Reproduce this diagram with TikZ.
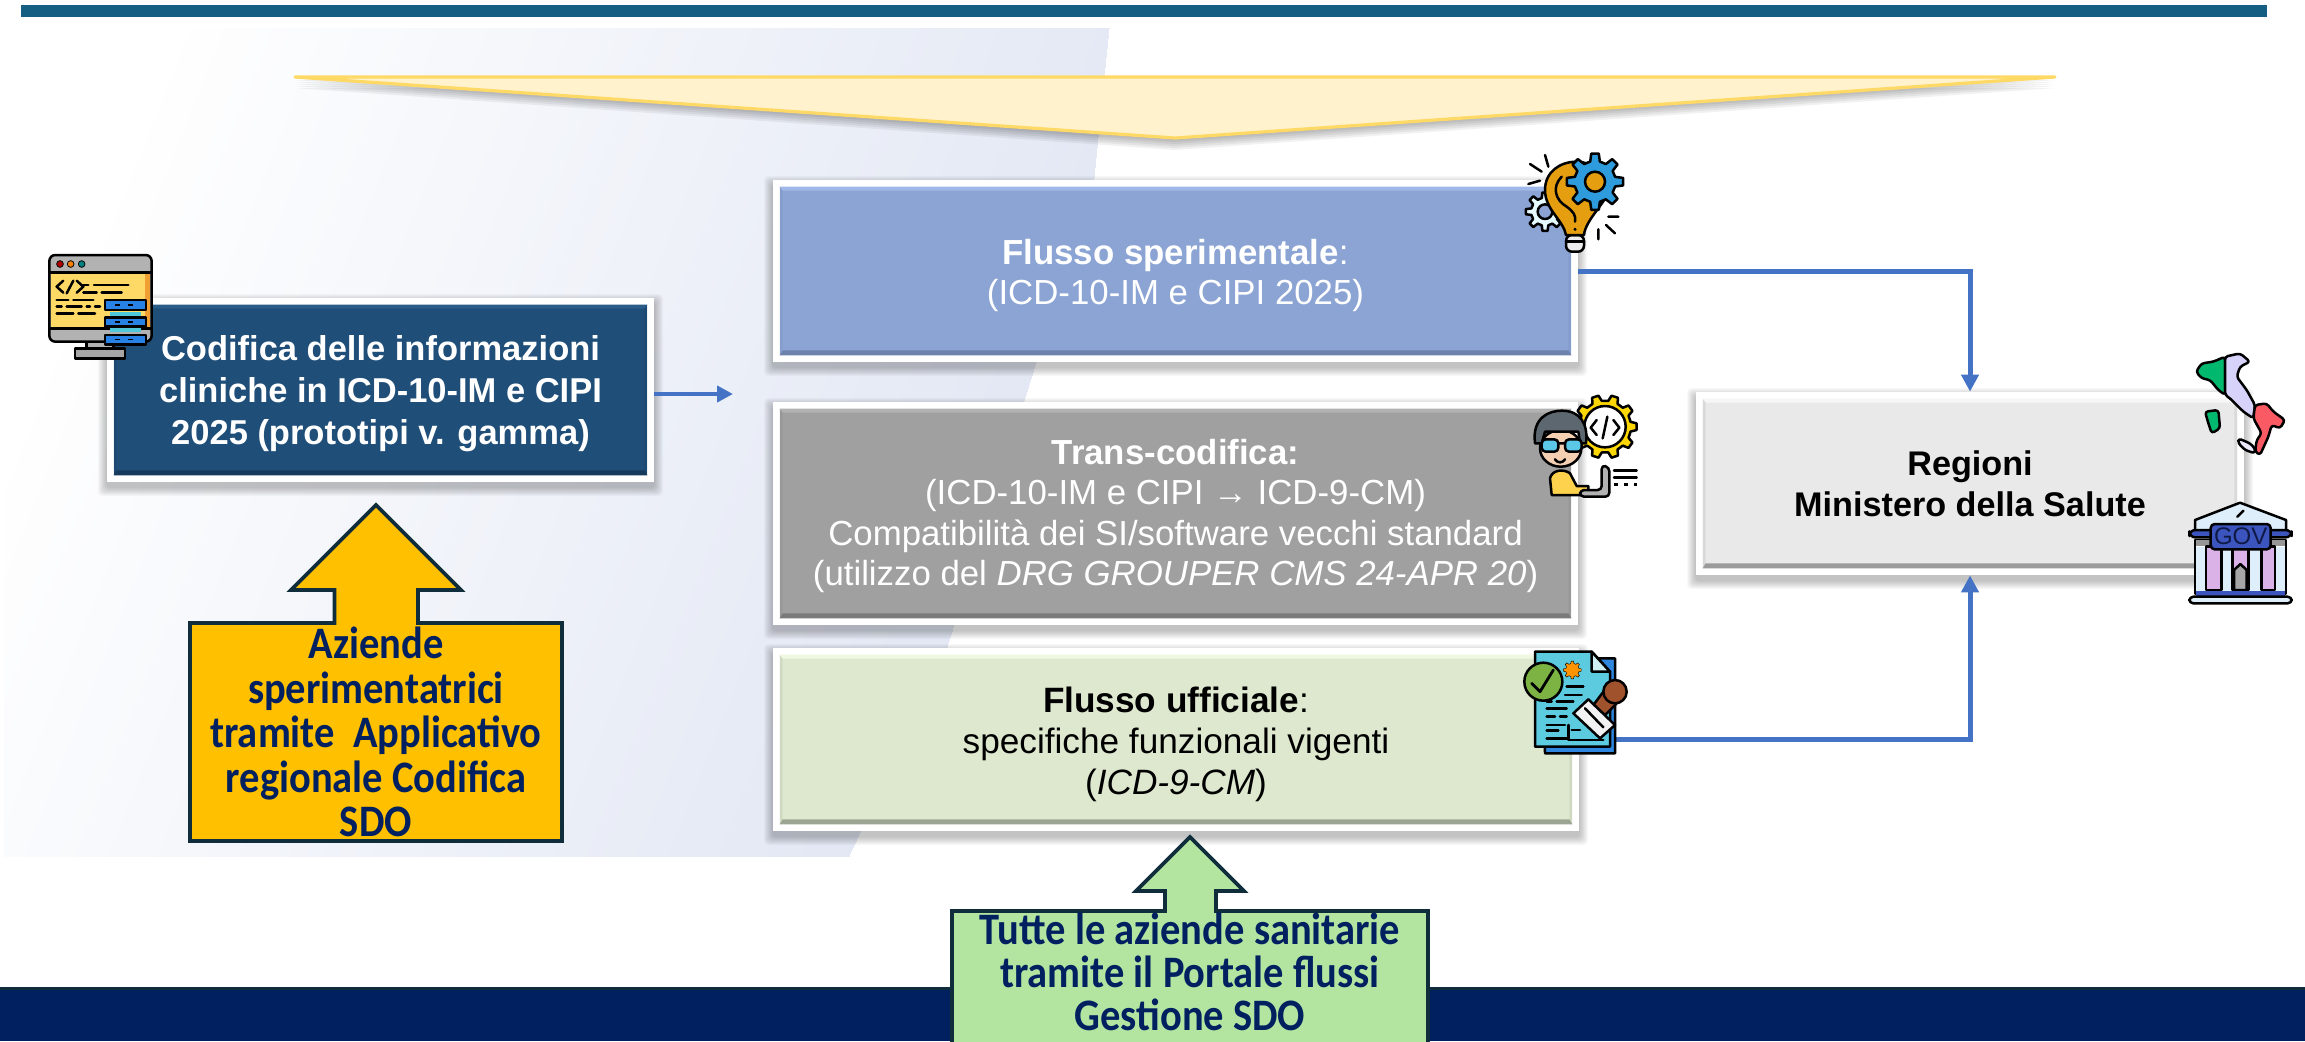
\documentclass[tikz,border=0pt]{standalone}
\usepackage{fontspec}
\setmainfont{Liberation Sans}
\newfontfamily\callfont[FakeStretch=.9]{Carlito}
\usetikzlibrary{arrows.meta,calc}
\definecolor{navy}{HTML}{002060}
\definecolor{darkline}{HTML}{0F2D3A}
\definecolor{link}{HTML}{4472C4}
\definecolor{panelblue}{RGB}{227,232,244}
\newcommand{\softbox}[4]{%
  \foreach \i in {1,...,9}{\fill[black,opacity=.028,rounded corners=2pt] ({#1-\i},{#2-\i+5}) rectangle ({#3+\i},{#4+\i+5});}}
\newcommand{\gearshape}[7]{% cx cy ro ri n fill lw
  \begin{scope}[shift={(#1,#2)}]
  \pgfmathsetmacro{\gs}{360/#5}
  \pgfmathsetmacro{\gl}{360-\gs}
  \draw[fill=#6,line width=#7,line join=round] (-.3*\gs:#4)
    \foreach \a in {0,\gs,...,\gl}{ -- ({\a-.3*\gs}:#4) -- ({\a-.17*\gs}:#3) -- ({\a+.17*\gs}:#3) -- ({\a+.3*\gs}:#4)} -- cycle;
  \end{scope}}
\newcommand{\pushdown}[1]{\rule{0pt}{#1}}
\tikzset{
  bevelbox/.style n args={4}{rectangle,inner sep=0pt,fill=white,align=center,text=#4,
    path picture={
      \coordinate (A) at ([shift={(3.3pt,-3.3pt)}]path picture bounding box.north west);
      \coordinate (C) at ([shift={(-3.3pt,3.3pt)}]path picture bounding box.south east);
      \coordinate (B) at (A -| C);
      \coordinate (D) at (A |- C);
      \fill[#1] (A) rectangle (C);
      \fill[#2] (A) -- (B) -- ([shift={(-1.5pt,-2pt)}]B) -- ([shift={(1.5pt,-2pt)}]A) -- cycle;
      \fill[#3] (D) -- (C) -- ([shift={(-1.5pt,2.5pt)}]C) -- ([shift={(1.5pt,2.5pt)}]D) -- cycle;
      \fill[#3,opacity=.2] (A) -- (D) -- ([shift={(1.5pt,2.5pt)}]D) -- ([shift={(1.5pt,-2pt)}]A) -- cycle;
      \fill[#3,opacity=.2] (B) -- (C) -- ([shift={(-1.5pt,2.5pt)}]C) -- ([shift={(-1.5pt,-2pt)}]B) -- cycle;
    }},
  flowline/.style={draw=link,line width=2.5pt,-{Triangle[width=8.5pt,length=8.5pt]}},
  callout/.style={draw=darkline,line width=1.8pt,miter limit=10},
  calltext/.style={align=center,text=navy,inner sep=0pt,font=\callfont\bfseries\fontsize{22.5}{22.3}\selectfont},
  ico/.style={line width=1.25pt,draw=black,line join=round,line cap=round},
  icon3x/.style={x=.16667pt,y=-.16667pt},
}
\begin{document}
\begin{tikzpicture}[x=.5pt,y=-.5pt]
\useasboundingbox (0,0) rectangle (2305,1041);
\fill[white] (0,0) rectangle (2305,1041);
% background panel
\begin{scope}
\clip (4,28) -- (1109,28) -- (1094,177) -- (947,647) -- (849,856) -- (4,856) -- cycle;
\foreach \i in {0,...,60}{
  \pgfmathsetmacro{\tz}{170+\i*16.5}
  \pgfmathsetmacro{\pc}{\i*100/60}
  \fill[fill=panelblue!\pc!white] (\tz,0) -- ({\tz-360},900) -- (1400,900) -- (1400,0) -- cycle;}
\end{scope}
% top bar and footer
\fill[fill={rgb,255:red,21;green,96;blue,130}] (20.5,4.5) rectangle (2267,16.5);
\fill[navy] (0,988) rectangle (2305,1041);
\draw[darkline,line width=1.5pt] (0,988) -- (2305,988);
% banner
\foreach \i in {2,4,...,12}{\fill[black,opacity=.055] (295,{76+\i}) -- (2055,{76+\i}) -- (1175,{138+\i}) -- cycle;}
\fill[fill={rgb,255:red,255;green,242;blue,204}] (295,76) -- (2055,76) -- (1175,138) -- cycle;
\draw[draw={rgb,255:red,255;green,217;blue,102},line width=1.6pt,line join=round] (295,77) -- (2055,77) -- (1175,138) -- cycle;
% shadows
\softbox{107}{298}{654}{482}
\softbox{773}{180}{1578}{362}
\softbox{773}{402}{1578}{625}
\softbox{773}{648}{1579}{831}
\softbox{1696}{392}{2244}{575}
% boxes
\node[bevelbox={fill={rgb,255:red,31;green,78;blue,121}}{fill={rgb,255:red,42;green,92;blue,138}}{fill={rgb,255:red,22;green,58;blue,92}}{white},
  font=\fontsize{17.25}{21}\selectfont,
  minimum width=273.5pt,minimum height=92pt] (codifica) at (380.5,390)
  {\pushdown{16.6pt}\textbf{Codifica delle informazioni}\\\textbf{cliniche in ICD-10-IM e CIPI}\\\textbf{2025 (prototipi v. gamma)}};
\node[bevelbox={fill={rgb,255:red,139;green,164;blue,212}}{fill={rgb,255:red,160;green,184;blue,232}}{fill={rgb,255:red,108;green,130;blue,172}}{white},
  font=\fontsize{17.4}{20}\selectfont,
  minimum width=402.5pt,minimum height=91pt] (speri) at (1175.5,271)
  {\pushdown{17.4pt}\textbf{Flusso sperimentale}:\\(ICD-10-IM e CIPI 2025)};
\node[bevelbox={fill={rgb,255:red,160;green,160;blue,160}}{fill={rgb,255:red,178;green,178;blue,178}}{fill={rgb,255:red,122;green,122;blue,122}}{white},
  font=\fontsize{17.4}{20.2}\selectfont,
  minimum width=402.5pt,minimum height=111.5pt] (trans) at (1175.5,513.5)
  {\pushdown{15.2pt}\textbf{Trans-codifica:}\\(ICD-10-IM e CIPI → ICD-9-CM)\\Compatibilità dei SI/software vecchi standard\\(utilizzo del \textit{DRG GROUPER CMS 24-APR 20})};
\node[bevelbox={fill={rgb,255:red,221;green,232;blue,207}}{fill={rgb,255:red,240;green,248;blue,226}}{fill={rgb,255:red,155;green,165;blue,145}}{black},
  font=\fontsize{17.6}{20.5}\selectfont,
  minimum width=403pt,minimum height=91.5pt] (uff) at (1176,739.5)
  {\pushdown{17.4pt}\textbf{Flusso ufficiale}:\\specifiche funzionali vigenti\\(\textit{ICD-9-CM})};
\node[bevelbox={fill={rgb,255:red,233;green,233;blue,233}}{fill={rgb,255:red,246;green,246;blue,246}}{fill={rgb,255:red,155;green,155;blue,155}}{black},
  font=\fontsize{17.1}{20.5}\selectfont,
  minimum width=274pt,minimum height=91.5pt] (regioni) at (1970,483.5)
  {\textbf{Regioni}\\\textbf{Ministero della Salute}};
% connectors
\coordinate (flowend) at (733,394);
\draw[draw=link,line width=2.2pt,-{Triangle[width=8pt,length=8pt]}] (codifica.east |- flowend) -- (flowend);
\draw[flowline] (speri.east) -| (regioni.north);
\draw[flowline] (uff.east) -| (regioni.south);
% yellow callout
\draw[callout,fill={rgb,255:red,255;green,192;blue,0}] (376,505) -- (461,590) -- (418,590) -- (418,623) -- (562,623) -- (562,841) -- (190,841) -- (190,623) -- (334.5,623) -- (334.5,590) -- (291,590) -- cycle;
\node[calltext] (aziende) at (376,732) {Aziende\\sperimentatrici\\tramite\ \ Applicativo\\regionale Codifica\\SDO};
% green callout
\draw[callout,fill={rgb,255:red,179;green,229;blue,161}] (1190,837) -- (1244,891) -- (1216,891) -- (1216,911) -- (1428,911) -- (1428,1046) -- (952,1046) -- (952,911) -- (1165,911) -- (1165,891) -- (1136,891) -- cycle;
\node[calltext,font=\callfont\bfseries\fontsize{22.5}{21.6}\selectfont] (tutte) at (1190,972) {Tutte le aziende sanitarie\\tramite il Portale flussi\\Gestione SDO};
% monitor icon
\begin{scope}[shift={(30,240)},icon3x]
\draw[ico,fill=gray!70] (135,325) rectangle (285,355);
\draw[ico,fill=gray!60] (170,300) rectangle (250,325);
\draw[ico,fill=gray!60,rounded corners=3pt] (58,45) rectangle (365,305);
\fill[fill={rgb,255:red,255;green,217;blue,102}] (62,98) rectangle (360,265);
\fill[fill={rgb,255:red,240;green,160;blue,50}] (345,98) rectangle (360,265);
\draw[ico] (58,98) -- (365,98) (58,265) -- (365,265);
\fill[fill=red!70!black,draw=black] (90,72) circle (10);
\fill[fill=orange,draw=black] (122,72) circle (10);
\fill[fill=teal,draw=black] (155,72) circle (10);
\draw[ico] (100,122) -- (80,140) -- (100,158) (130,122) -- (110,160) (140,122) -- (160,140) -- (140,158);
\draw[ico] (160,135) -- (175,135) (192,135) -- (295,135) (160,158) -- (200,158) (215,158) -- (275,158);
\draw[ico] (80,180) -- (115,180) (130,180) -- (190,180) (80,200) -- (95,200) (110,200) -- (155,200) (170,200) -- (180,200) (195,200) -- (210,200) (80,220) -- (130,220) (145,220) -- (195,220);
\foreach \y/\h in {180/30,232/28,285/28}{
  \draw[ico,fill={rgb,255:red,40;green,130;blue,230}] (225,\y) rectangle (348,{\y+\h});
  \draw[line width=.6pt,draw=black] (255,{\y+\h/2}) -- (270,{\y+\h/2}) (295,{\y+\h/2}) -- (310,{\y+\h/2});}
\foreach \y in {215,265}{\fill[fill={rgb,255:red,80;green,200;blue,220}] (240,\y) rectangle (332,{\y+12});}
\end{scope}
% bulb icon
\begin{scope}[shift={(1480,140)},icon3x]
\gearshape{195}{215}{58}{42}{8}{blue!15!cyan!10!white}{1.25pt}
\draw[ico,fill={rgb,255:red,139;green,164;blue,212}] (195,215) circle (22);
\draw[ico,fill=white!85!gray,rounded corners=3pt] (258,285) rectangle (312,335);
\draw[ico] (258,305) -- (312,305);
\draw[ico,fill={rgb,255:red,229;green,158;blue,16}] (258,285) .. controls (250,240) and (195,210) .. (195,150) .. controls (195,95) and (240,65) .. (290,65) .. controls (340,65) and (385,110) .. (385,150) .. controls (385,180) and (315,240) .. (312,285) -- cycle;
\draw[ico] (245,110) .. controls (215,140) and (225,180) .. (260,200) .. controls (280,215) and (288,225) .. (285,245);
\fill (285,268) circle (5);
\gearshape{345}{125}{85}{62}{8}{cyan!75!blue!85!white}{1.25pt}
\draw[ico,fill={rgb,255:red,229;green,158;blue,16}] (345,125) circle (30);
\draw[ico] (150,72) -- (185,95) (195,45) -- (205,80) (145,132) -- (180,122) (385,230) -- (415,230) (378,255) -- (405,280) (355,268) -- (355,298);
\end{scope}
% developer icon
\begin{scope}[shift={(1500,380)},icon3x]
\gearshape{315}{140}{95}{78}{10}{yellow!75!orange}{1.25pt}
\draw[ico,fill=white] (315,140) circle (62);
\draw[ico] (290,120) -- (272,143) -- (290,165) (340,120) -- (358,143) -- (340,165) (322,110) -- (308,175);
\draw[ico,fill={rgb,255:red,245;green,207;blue,178}] (182,205) ellipse (62 and 55);
\draw[ico,fill={rgb,255:red,93;green,103;blue,112}] (105,190) .. controls (95,110) and (150,92) .. (185,92) .. controls (240,92) and (265,130) .. (258,190) -- (240,190) -- (235,155) -- (135,155) -- (125,190) -- cycle;
\draw[ico,fill={rgb,255:red,91;green,200;blue,232},rounded corners=2pt] (125,178) rectangle (175,215);
\draw[ico,fill={rgb,255:red,91;green,200;blue,232},rounded corners=2pt] (195,178) rectangle (245,215);
\draw[ico] (175,190) -- (195,190) (165,238) .. controls (172,250) and (188,250) .. (195,238);
\draw[ico,fill={rgb,255:red,255;green,210;blue,77}] (155,345) -- (150,295) .. controls (155,270) and (190,265) .. (210,280) -- (230,318) -- (265,318) -- (265,345) -- cycle;
\draw[ico,fill=gray!60,rounded corners=2pt] (240,330) -- (305,330) -- (305,255) -- (328,262) -- (328,350) -- (240,350) -- cycle;
\draw[ico] (342,272) -- (410,272) (342,293) -- (410,293);
\draw[line width=1.2pt,dash pattern=on 2pt off 3pt] (342,313) -- (410,313);
\end{scope}
% document icon
\begin{scope}[shift={(1510,640)},icon3x]
\draw[ico,fill={rgb,255:red,46;green,134;blue,222}] (100,55) -- (315,55) -- (315,340) -- (105,340) -- cycle;
\draw[ico,fill={rgb,255:red,92;green,203;blue,224}] (75,35) -- (245,35) -- (300,95) -- (300,320) -- (75,320) -- cycle;
\draw[ico,fill={rgb,255:red,207;green,239;blue,245}] (245,35) -- (245,95) -- (300,95) -- cycle;
\draw[ico] (170,140) -- (220,140) (165,165) -- (215,165) (110,185) -- (125,185) (140,185) -- (190,185) (110,205) -- (170,205) (110,230) -- (135,230) (150,230) -- (170,230) (110,255) -- (165,255) (110,272) -- (145,272) (110,295) -- (170,295) (175,255) -- (175,300) -- (280,300) (185,270) -- (210,270);
\draw[ico,fill={rgb,255:red,124;green,179;blue,66}] (100,125) circle (57);
\draw[ico,line width=1.4pt] (65,130) -- (90,155) -- (130,90);
\gearshape{187}{90}{27}{20}{8}{orange!85!yellow}{.2pt}
\draw[ico,fill={rgb,255:red,160;green,82;blue,45}] (295,135) -- (335,175) -- (285,225) -- (250,195) -- cycle;
\draw[ico,fill={rgb,255:red,160;green,82;blue,45}] (315,155) circle (35);
\draw[ico,fill=white!90!gray] (235,178) -- (315,255) -- (270,295) -- (190,220) -- cycle;
\draw[ico] (225,205) -- (280,262);
\end{scope}
% Italy
\begin{scope}[shift={(2160,340)},icon3x,rounded corners=1.5pt]
\draw[ico,fill={rgb,255:red,0;green,184;blue,110}] (108,95) -- (125,70) -- (160,65) -- (195,50) -- (195,165) -- (175,150) -- (150,120) -- (125,115) -- cycle;
\draw[ico,fill={rgb,255:red,215;green,210;blue,250}] (195,50) -- (240,40) -- (270,65) -- (240,80) -- (230,110) -- (260,150) -- (285,195) -- (280,235) -- (250,215) -- (210,175) -- (195,165) -- cycle;
\draw[ico,fill={rgb,255:red,250;green,90;blue,100}] (285,195) -- (320,190) -- (340,215) -- (375,240) -- (360,265) -- (335,255) -- (325,290) -- (300,345) -- (285,335) -- (290,300) -- (305,280) -- (280,235) -- cycle;
\draw[ico,fill={rgb,255:red,235;green,232;blue,250}] (235,295) -- (270,310) -- (285,325) -- (285,340) -- (255,330) -- (235,310) -- cycle;
\draw[ico,fill={rgb,255:red,0;green,184;blue,110}] (135,215) -- (175,210) -- (180,265) -- (155,280) -- (145,250) -- cycle;
\end{scope}
% GOV icon
\begin{scope}[shift={(2160,340)},icon3x]
\draw[ico,fill={rgb,255:red,222;green,238;blue,250}] (105,575) -- (105,540) -- (240,488) -- (378,540) -- (378,575) -- cycle;
\draw[ico] (232,530) -- (250,512);
\draw[ico,fill=white] (105,600) rectangle (378,760);
\fill[fill={rgb,255:red,222;green,238;blue,250}] (108,620) rectangle (375,758);
\fill[fill={rgb,255:red,150;green,150;blue,150}] (108,600) rectangle (375,618);
\foreach \xa/\xb in {138/185,218/265,305/345}{\draw[ico,fill={rgb,255:red,218;green,178;blue,232}] (\xa,620) rectangle (\xb,750);}
\draw[ico,fill=gray!70] (222,750) -- (222,690) -- (241,672) -- (260,690) -- (260,750) -- cycle;
\draw[ico,fill={rgb,255:red,60;green,85;blue,190},rounded corners=3pt] (88,570) rectangle (395,592);
\draw[ico,fill={rgb,255:red,60;green,85;blue,190},rounded corners=2pt] (152,552) rectangle (332,628);
\node[inner sep=0pt,text={rgb,255:red,15;green,25;blue,70},font=\fontsize{12}{12}\selectfont] (gov) at (242,590) {GOV};
\fill[fill={rgb,255:red,60;green,85;blue,190}] (108,752) rectangle (375,770);
\draw[ico,fill={rgb,255:red,222;green,238;blue,250},rounded corners=2pt] (88,770) rectangle (395,790);
\end{scope}
\end{tikzpicture}
\end{document}
